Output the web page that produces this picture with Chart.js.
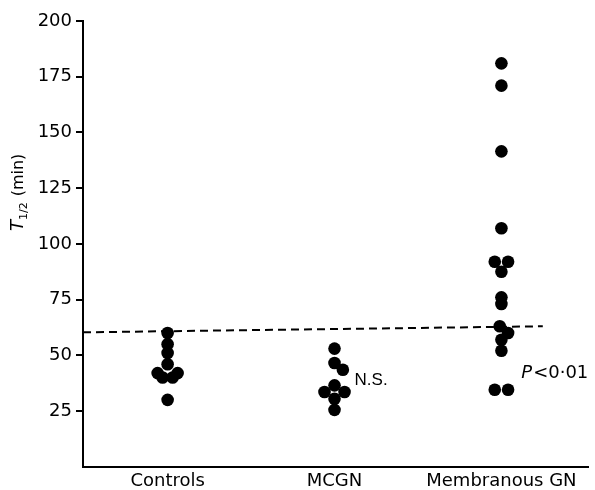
<!DOCTYPE html>
<html>
<head>
<meta charset="utf-8">
<script src="https://cdn.jsdelivr.net/npm/chart.js@4/dist/chart.umd.min.js"></script>
<style>
  body { margin: 0; background: #fff; }
  #wrap { width: 595px; height: 490px; }
</style>
</head>
<body>
<div id="wrap"><canvas id="myChart"></canvas></div>
<script>
const categories = ['Controls', 'MCGN', 'Membranous GN'];
const yTicks = [25, 50, 75, 100, 125, 150, 175, 200];

// T1/2 values (min) per group, with small sideways offsets so dots don't overlap
const controls = [60, 55, 51, 46, 42, 42, 40, 40, 30];
const controlsJitter = [0, 0, 0, 0, -0.06, 0.06, -0.03, 0.03, 0];
const mcgn = [53, 46.5, 43.5, 36.5, 33.5, 33.5, 30.5, 25.5];
const mcgnJitter = [0, 0, 0.05, 0, -0.06, 0.06, 0, 0];
const membranous = [181, 171, 141.5, 107, 92, 92, 87.5, 76, 73, 63, 60, 57, 52, 34.5, 34.5];
const membranousJitter = [0, 0, 0, 0, -0.04, 0.04, 0, 0, 0, -0.01, 0.04, 0, 0, -0.04, 0.04];

// upper limit of normal (dashed line), start and end
const cutoffX = [0.493, 3.248];
const cutoffY = [60.3, 63];

const notes = [
    { text: 'N.S.', x: 2.12, y: 38.9 },
    { text: 'P<0·01', x: 3.119, y: 42 }
];

function toPoints(values, jitter, group) {
    return values.map((v, i) => ({ x: group + jitter[i], y: v }));
}

const annotatePlugin = {
    id: 'annotate',
    afterDraw(chart) {
        const ctx = chart.ctx;
        const xs = chart.scales.x, ys = chart.scales.y;
        ctx.save();
        ctx.fillStyle = '#000';
        ctx.textBaseline = 'middle';
        ctx.textAlign = 'left';

        // N.S.
        ctx.font = '17px "Liberation Sans"';
        ctx.fillText(notes[0].text, xs.getPixelForValue(notes[0].x), ys.getPixelForValue(notes[0].y));

        // P<0·01 with italic P
        let px = xs.getPixelForValue(notes[1].x);
        const py = ys.getPixelForValue(notes[1].y);
        ctx.font = 'italic 18px "DejaVu Sans"';
        ctx.fillText('P', px, py);
        px += ctx.measureText('P').width + 1;
        ctx.font = '18px "DejaVu Sans"';
        ctx.fillText(notes[1].text.slice(1), px, py);

        // y title: T(1/2) (min), rotated
        ctx.translate(23, 231);
        ctx.rotate(-Math.PI / 2);
        ctx.textBaseline = 'alphabetic';
        let tx = 0;
        ctx.font = 'italic 18px "DejaVu Sans"';
        ctx.fillText('T', tx, 0);
        tx += ctx.measureText('T').width;
        ctx.font = '11px "DejaVu Sans"';
        ctx.fillText('1/2', tx, 4);
        tx += ctx.measureText('1/2').width + 6;
        ctx.font = '16px "DejaVu Sans"';
        ctx.fillText('(min)', tx, 0);
        ctx.restore();
    }
};

const ctx = document.getElementById('myChart').getContext('2d');

const dot = {
    type: 'scatter',
    backgroundColor: '#000',
    borderWidth: 0,
    pointRadius: 6.3,
    pointHoverRadius: 6.3
};

new Chart(ctx, {
    data: {
        datasets: [
            Object.assign({ label: categories[0], data: toPoints(controls, controlsJitter, 1) }, dot),
            Object.assign({ label: categories[1], data: toPoints(mcgn, mcgnJitter, 2) }, dot),
            Object.assign({ label: categories[2], data: toPoints(membranous, membranousJitter, 3) }, dot),
            {
                type: 'line',
                label: 'cutoff',
                data: cutoffX.map((x, i) => ({ x: x, y: cutoffY[i] })),
                borderColor: '#000',
                borderWidth: 2,
                borderDash: [8, 5],
                pointRadius: 0,
                fill: false
            }
        ]
    },
    options: {
        responsive: true,
        maintainAspectRatio: false,
        animation: false,
        layout: { padding: { top: 21, right: 2 } },
        plugins: {
            legend: { display: false },
            tooltip: { enabled: false }
        },
        scales: {
            x: {
                type: 'linear',
                min: 0.493,
                max: 3.523,
                afterBuildTicks: (scale) => {
                    scale.ticks = categories.map((c, i) => ({ value: i + 1 }));
                },
                afterFit: (scale) => { scale.height = 23.3; },
                ticks: {
                    callback: (v) => categories[v - 1],
                    color: '#000',
                    font: { family: 'DejaVu Sans', size: 18 },
                    padding: 4,
                    maxRotation: 0,
                    autoSkip: false
                },
                grid: { display: false, drawTicks: false },
                border: { display: true, color: '#000', width: 2 }
            },
            y: {
                min: 0,
                max: 200,
                afterBuildTicks: (scale) => {
                    scale.ticks = yTicks.map((v) => ({ value: v }));
                },
                afterFit: (scale) => { scale.width = 83; },
                ticks: {
                    color: '#000',
                    font: { family: 'DejaVu Sans', size: 18 },
                    padding: 4
                },
                grid: {
                    drawOnChartArea: false,
                    drawTicks: true,
                    tickLength: 7,
                    color: '#000',
                    lineWidth: 2
                },
                border: { display: true, color: '#000', width: 2 }
            }
        }
    },
    plugins: [annotatePlugin]
});
</script>
</body>
</html>
